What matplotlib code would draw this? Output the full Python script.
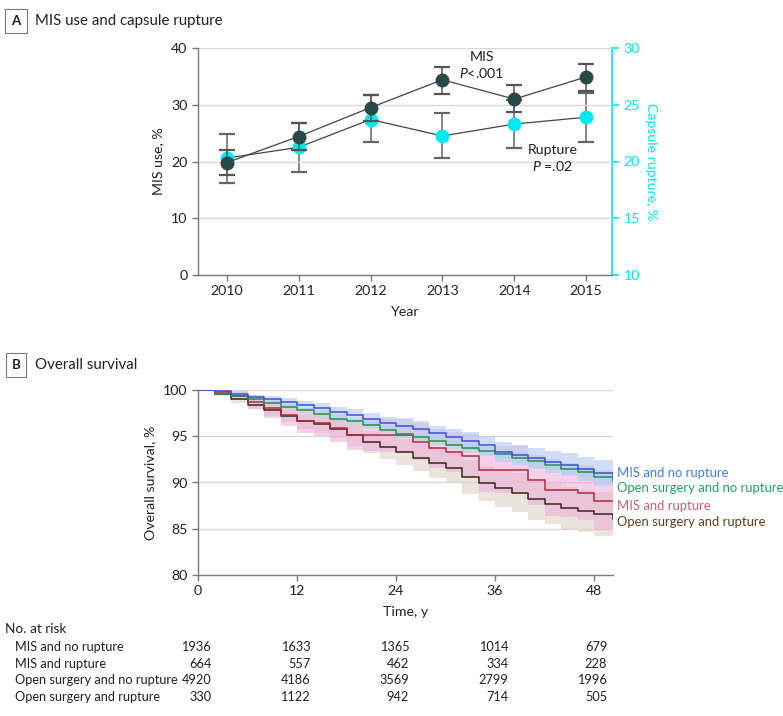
"""MIS use / capsule rupture trend and overall survival curves."""

import matplotlib

matplotlib.use("Agg")
import matplotlib.pyplot as plt
from matplotlib.transforms import blended_transform_factory
import numpy as np

FONT = ["Lato", "DejaVu Sans"]
plt.rcParams["font.family"] = FONT
plt.rcParams["mathtext.fontset"] = "custom"
plt.rcParams["mathtext.it"] = "Lato:italic"
plt.rcParams["mathtext.rm"] = "Lato"
FS = 9.6

# ---- panel A data ----
years = [2010, 2011, 2012, 2013, 2014, 2015]
mis_use = [19.8, 24.4, 29.5, 34.4, 31.0, 34.9]
mis_low = [17.6, 22.1, 27.2, 31.9, 28.8, 32.5]
mis_high = [22.0, 26.8, 31.8, 36.6, 33.4, 37.2]
rupture = [20.3, 21.25, 23.7, 22.25, 23.3, 23.9]
rupture_low = [18.1, 19.1, 21.7, 20.3, 21.2, 21.75]
rupture_high = [22.4, 23.4, 25.9, 24.3, 25.4, 26.0]

# ---- panel B data ----
months = [0, 2, 4, 6, 8, 10, 12, 14, 16, 18, 20, 22, 24, 26, 28, 30, 32,
          34, 36, 38, 40, 42, 44, 46, 48, 50.3]
mis_no_rupture = [100, 99.9, 99.6, 99.2, 99.0, 98.7, 98.4, 98.1, 97.6, 97.3,
                  96.9, 96.4, 96.1, 95.8, 95.3, 94.9, 94.5, 94.0, 93.3, 93.0,
                  92.6, 92.2, 91.9, 91.5, 91.0, 90.5]
mis_no_rupture_ci = [0, 0.1, 0.2, 0.3, 0.35, 0.4, 0.45, 0.5, 0.55, 0.6, 0.65,
                     0.7, 0.75, 0.8, 0.85, 0.9, 0.95, 1.0, 1.05, 1.1, 1.15,
                     1.2, 1.25, 1.3, 1.4, 1.5]
open_no_rupture = [100, 99.6, 99.3, 99.0, 98.6, 98.2, 97.8, 97.4, 96.9, 96.6,
                   96.2, 95.7, 95.2, 94.9, 94.5, 94.1, 93.7, 93.4, 93.1, 92.7,
                   92.3, 91.9, 91.5, 91.1, 90.6, 90.2]
open_no_rupture_ci = [0, 0.1, 0.15, 0.2, 0.22, 0.25, 0.27, 0.3, 0.32, 0.35,
                      0.37, 0.4, 0.42, 0.44, 0.46, 0.48, 0.5, 0.52, 0.54, 0.56,
                      0.58, 0.6, 0.62, 0.65, 0.7, 0.75]
mis_rupture = [100, 99.8, 99.4, 98.7, 98.0, 97.3, 96.7, 96.4, 95.9, 95.1,
               95.1, 95.1, 95.1, 94.4, 93.7, 93.3, 92.9, 91.4, 91.4, 91.4,
               90.3, 89.2, 89.2, 88.9, 88.0, 88.0]
mis_rupture_ci = [0, 0.3, 0.5, 0.8, 1.0, 1.2, 1.3, 1.4, 1.5, 1.6, 1.7, 1.8,
                  1.9, 2.0, 2.1, 2.2, 2.3, 2.4, 2.5, 2.6, 2.7, 2.8, 2.9, 3.0,
                  3.1, 3.2]
open_rupture = [100, 99.6, 99.0, 98.4, 97.8, 97.2, 96.6, 96.3, 95.8, 95.1,
                94.4, 93.8, 93.3, 92.7, 92.1, 91.6, 90.6, 89.9, 89.4, 88.9,
                88.2, 87.7, 87.2, 86.9, 86.6, 86.1]
open_rupture_ci = [0, 0.2, 0.4, 0.5, 0.6, 0.7, 0.8, 0.9, 1.0, 1.1, 1.2, 1.3,
                   1.4, 1.5, 1.6, 1.7, 1.8, 1.9, 2.0, 2.1, 2.2, 2.2, 2.3, 2.3,
                   2.4, 2.4]

group_names = ["MIS and no rupture", "Open surgery and no rupture",
               "MIS and rupture", "Open surgery and rupture"]
line_colors = ["#3c50d8", "#2a8a58", "#b02a3c", "#3a2618"]
label_colors = ["#3f7fe6", "#1ea35c", "#c75e78", "#5c3f1a"]
band_colors = ["#b8cdf3", "#a9dccb", "#eeaad8", "#ddd2c6"]
band_alpha = [0.65, 0.55, 0.55, 0.6]
label_y = [91.0, 89.4, 87.5, 85.7]

risk_times = [0, 12, 24, 36, 48]
risk_rows = ["MIS and no rupture", "MIS and rupture",
             "Open surgery and no rupture", "Open surgery and rupture"]
risk_counts = [
    [1936, 1633, 1365, 1014, 679],
    [664, 557, 462, 334, 228],
    [4920, 4186, 3569, 2799, 1996],
    [330, 1122, 942, 714, 505],
]

GRAY = "#7a7a7a"
GRID = "#d9d9d9"
CYAN = "#00e8f0"
SLATE = "#294848"
TEXT = "#222222"

W, H = 783, 716
fig = plt.figure(figsize=(W / 100, H / 100), dpi=100)


def fx(px):
    return px / W


def fy(py):
    return 1 - py / H


def panel_label(letter, title, y):
    fig.text(fx(16), fy(y), letter, ha="center", va="center", fontsize=FS,
             fontweight="bold", color=TEXT,
             bbox=dict(boxstyle="square,pad=0.45", fc="white", ec=GRAY, lw=0.8))
    fig.text(fx(35), fy(y), title, ha="left", va="center", fontsize=FS + 1.2,
             color=TEXT)


def style_axis(ax):
    for side in ("top", "right"):
        ax.spines[side].set_visible(False)
    for side in ("left", "bottom"):
        ax.spines[side].set_color(GRAY)
        ax.spines[side].set_linewidth(1.0)
    ax.tick_params(colors=GRAY, labelcolor=TEXT, labelsize=FS + 0.6, length=4,
                   width=1.0)


# ---- panel A ----
panel_label("A", "MIS use and capsule rupture", 21)
ax_a = fig.add_axes([fx(198), fy(275), fx(612 - 198), (275 - 48) / H])
ax_r = ax_a.twinx()
style_axis(ax_a)
ax_a.set_xlim(2009.6, 2015.36)
ax_a.set_ylim(0, 40)
ax_a.set_yticks([0, 10, 20, 30, 40])
ax_a.set_xticks(years)
ax_a.yaxis.grid(True, color=GRID, lw=1.0)
ax_a.set_axisbelow(True)
ax_a.set_ylabel("MIS use, %", fontsize=FS + 0.6, color=TEXT, labelpad=5)
ax_a.set_xlabel("Year", fontsize=FS + 0.6, color=TEXT, labelpad=6)

for side in ("top", "left", "bottom"):
    ax_r.spines[side].set_visible(False)
ax_r.spines["right"].set_color(CYAN)
ax_r.spines["right"].set_linewidth(1.2)
ax_r.set_ylim(10, 30)
ax_r.set_yticks([10, 15, 20, 25, 30])
ax_r.tick_params(axis="y", colors=CYAN, labelcolor=CYAN, labelsize=FS + 0.6,
                 length=5, width=1.2)
ax_r.set_ylabel("Capsule rupture, %", fontsize=FS + 0.6, color=CYAN,
                rotation=270, labelpad=12)

r_err = [np.subtract(rupture, rupture_low), np.subtract(rupture_high, rupture)]
_, r_caps, _ = ax_r.errorbar(years, rupture, yerr=r_err, fmt="o", ms=9,
                             color=CYAN, mec=CYAN, ecolor="#666666",
                             elinewidth=1.1, capsize=6, capthick=1.6,
                             zorder=3)
for cap in r_caps:
    cap.set_color(CYAN)
ax_r.plot(years, rupture, color="#444444", lw=0.9, zorder=2)

m_err = [np.subtract(mis_use, mis_low), np.subtract(mis_high, mis_use)]
_, m_caps, _ = ax_a.errorbar(years, mis_use, yerr=m_err, fmt="o", ms=9,
                             color=SLATE, mec=SLATE, ecolor="#555555",
                             elinewidth=1.1, capsize=6, capthick=1.6,
                             zorder=3)
for cap in m_caps:
    cap.set_color(SLATE)
ax_a.plot(years, mis_use, color="#444444", lw=0.9, zorder=2)
ax_a.set_zorder(ax_r.get_zorder() + 1)
ax_a.patch.set_visible(False)

ax_a.text(2013.55, 38.4, "MIS", ha="center", va="center", fontsize=FS + 0.6,
          color=TEXT)
ax_a.text(2013.55, 35.6, r"$\it{P}$<.001", ha="center", va="center",
          fontsize=FS + 0.6, color=TEXT)
ax_a.text(2014.53, 22.0, "Rupture", ha="center", va="center",
          fontsize=FS + 0.6, color=TEXT)
ax_a.text(2014.53, 19.2, r"$\it{P}$ =.02", ha="center", va="center",
          fontsize=FS + 0.6, color=TEXT)

# ---- panel B ----
panel_label("B", "Overall survival", 365)
ax_b = fig.add_axes([fx(198), fy(575), fx(613 - 198), (575 - 390) / H])
style_axis(ax_b)
ax_b.set_xlim(0, 50.3)
ax_b.set_ylim(80, 100)
ax_b.set_xticks(risk_times)
ax_b.set_yticks([80, 85, 90, 95, 100])
ax_b.yaxis.grid(True, color=GRID, lw=1.0)
ax_b.set_axisbelow(True)
ax_b.set_ylabel("Overall survival, %", fontsize=FS + 0.6, color=TEXT,
                labelpad=5)
ax_b.set_xlabel("Time, y", fontsize=FS + 0.6, color=TEXT, labelpad=6)

curves = [mis_no_rupture, open_no_rupture, mis_rupture, open_rupture]
cis = [mis_no_rupture_ci, open_no_rupture_ci, mis_rupture_ci, open_rupture_ci]
for i in [3, 2, 1, 0]:
    surv = np.array(curves[i])
    half = np.array(cis[i])
    ax_b.fill_between(months, surv - half, surv + half, step="post",
                      color=band_colors[i], alpha=band_alpha[i], lw=0,
                      zorder=1)
for i in [3, 2, 1, 0]:
    ax_b.step(months, curves[i], where="post", color=line_colors[i], lw=1.1,
              zorder=3)
for i, name in enumerate(group_names):
    ax_b.text(50.8, label_y[i], name, ha="left", va="center",
              fontsize=FS - 0.2, color=label_colors[i], clip_on=False)

# ---- number at risk ----
fig.text(fx(5), fy(629), "No. at risk", ha="left", va="center",
         fontsize=FS + 0.2, color=TEXT)
risk_tf = blended_transform_factory(ax_b.transData, fig.transFigure)
for row, (name, counts) in enumerate(zip(risk_rows, risk_counts)):
    y = fy(647 + row * 16.7)
    fig.text(fx(15), y, name, ha="left", va="center", fontsize=FS - 0.4,
             color=TEXT)
    for t, n in zip(risk_times, counts):
        ax_b.text(t + 1.6, y, str(n), ha="right", va="center",
                  fontsize=FS - 0.4, color=TEXT, transform=risk_tf,
                  clip_on=False)

fig.savefig("out.png", dpi=100)
plt.close(fig)
